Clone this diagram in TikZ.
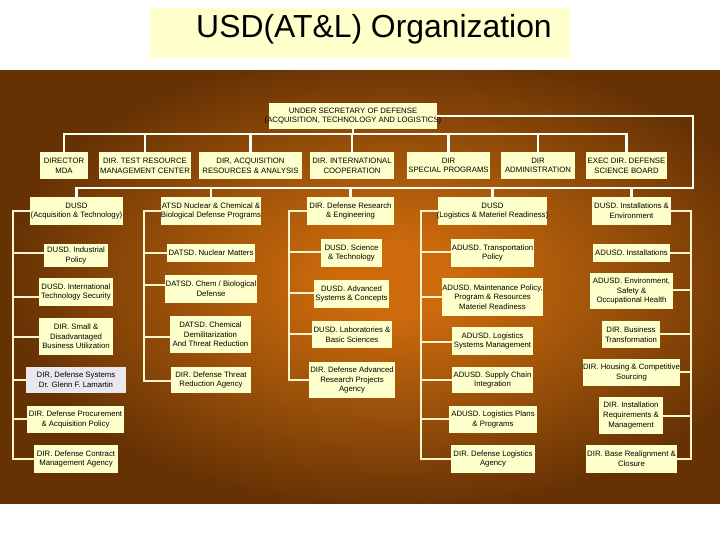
\documentclass[tikz,border=0pt]{standalone}
\usepackage{fontspec}
\setmainfont{Liberation Sans}
\definecolor{boxfill}{HTML}{FFFFCC}
\definecolor{grayfill}{HTML}{E8E8EE}
\definecolor{bgc}{HTML}{CC6A0C}
\definecolor{bgm}{HTML}{A0540A}
\definecolor{bge}{HTML}{663204}
\definecolor{buscol}{HTML}{FFFFF2}
\definecolor{thincol}{HTML}{FFF4CC}
\pgfdeclareradialshading{bgshade}{\pgfpoint{0bp}{0bp}}{color(0bp)=(bgc); color(2bp)=(bgc); color(6.5bp)=(bgm); color(12.5bp)=(bge); color(50bp)=(bge)}
\tikzset{
  ob/.style={fill=boxfill, draw=none, inner sep=0pt, outer sep=0pt},
  gb/.style={ob, fill=grayfill},
  txt/.style={font=\fontsize{7.8}{9.7}\selectfont, align=center, inner sep=0pt, text=black},
  bus/.style={draw=buscol, line width=2.6bp, line cap=rect},
  thinl/.style={draw=thincol, line width=1.3bp},
}
\newcommand\bx[7][ob]{%
  \node[#1, minimum width={(#5-#3)*1bp}, minimum height={(#6-#4)*1bp},
        label={[txt]center:{#7}}] (#2) at ({(#3+#5)/2},{(#4+#6)/2}) {};}
\newcommand\brl[3]{\draw[thinl] (#1 |- 0,#3) -- (#2.west |- 0,#3);}
\newcommand\brr[3]{\draw[thinl] (#1 |- 0,#3) -- (#2.east |- 0,#3);}
\begin{document}
\begin{tikzpicture}[x=1bp,y=-1bp]
\useasboundingbox (0,0) rectangle (720,540);
\fill[white] (0,0) rectangle (720,540);
\fill[bge] (0,70.5) rectangle (720,503);
\begin{scope}
  \clip (0,70.5) rectangle (720,503);
  \shade[shading=bgshade] (-385,-180) rectangle (1175,740);
\end{scope}
% title
\node[fill=boxfill, minimum width=420bp, minimum height=50bp, inner sep=0pt] (tbox) at (360,33) {};
\node[font=\fontsize{32}{36}\selectfont, anchor=base, inner sep=0pt] (title) at (374,37.5) {USD(AT\&L) Organization};
% top
\bx{top}{269}{103}{437}{129}{UNDER SECRETARY OF DEFENSE\\(ACQUISITION,  TECHNOLOGY AND  LOGISTICS)}
% row 2
\bx{mda}{40}{152}{88}{179}{DIRECTOR\\MDA}
\bx{tr}{99}{152}{191}{179}{DIR. TEST RESOURCE\\MANAGEMENT CENTER}
\bx{acq}{199}{152}{302}{179}{DIR, ACQUISITION\\RESOURCES \& ANALYSIS}
\bx{intl}{310}{152}{394}{179}{DIR. INTERNATIONAL\\COOPERATION}
\bx{sp}{407}{152}{490}{179}{DIR\\SPECIAL PROGRAMS}
\bx{adm}{501}{152}{575}{179}{DIR\\ADMINISTRATION}
\bx{exec}{586}{152}{667}{179}{EXEC DIR. DEFENSE\\SCIENCE BOARD}
% row 3
\bx{dat}{30}{197}{123}{225}{DUSD\\(Acquisition \& Technology)}
\bx{atsd}{161}{197}{261}{225}{ATSD Nuclear \& Chemical \&\\Biological Defense Programs}
\bx{dre}{307}{197}{394}{225}{DIR. Defense Research\\\& Engineering}
\bx{dlm}{438}{197}{547}{225}{DUSD\\(Logistics \& Materiel Readiness)}
\bx{die}{592}{197}{671}{225}{DUSD. Installations \&\\Environment}
% column 1
\bx{c1b}{44}{244}{108}{267}{DUSD. Industrial\\Policy}
\bx{c1c}{39}{278}{113}{306}{DUSD. International\\Technology Security}
\bx{c1d}{39}{318}{113}{355}{DIR. Small \&\\Disadvantaged\\Business Utilization}
\bx[gb]{c1e}{26}{367}{126}{393}{DIR, Defense Systems\\Dr. Glenn F. Lamartin}
\bx{c1f}{27}{406}{124}{433}{DIR. Defense Procurement\\\& Acquisition Policy}
\bx{c1g}{34}{445}{118}{473}{DIR. Defense Contract\\Management Agency}
% column 2
\bx{c2b}{167}{244}{255}{262}{DATSD. Nuclear Matters}
\bx{c2c}{165}{275}{257}{303}{DATSD. Chem / Biological\\Defense}
\bx{c2d}{170}{316}{251}{353}{DATSD. Chemical\\Demilitarization\\And Threat Reduction}
\bx{c2e}{171}{367}{251}{393}{DIR. Defense Threat\\Reduction Agency}
% column 3
\bx{c3b}{321}{239}{382}{267}{DUSD. Science\\\& Technology}
\bx{c3c}{314}{280}{389}{308}{DUSD. Advanced\\Systems \& Concepts}
\bx{c3d}{312}{321}{392}{348}{DUSD. Laboratories \&\\Basic Sciences}
\bx{c3e}{309}{362}{395}{398}{DIR. Defense Advanced\\Research Projects\\Agency}
% column 4
\bx{c4b}{451}{239}{534}{267}{ADUSD. Transportation\\Policy}
\bx{c4c}{442}{278}{543}{316}{ADUSD. Maintenance Policy,\\Program \& Resources\\Materiel Readiness}
\bx{c4d}{452}{327}{533}{355}{ADUSD. Logistics\\Systems Management}
\bx{c4e}{452}{367}{533}{393}{ADUSD. Supply Chain\\Integration}
\bx{c4f}{449}{406}{537}{433}{ADUSD. Logistics Plans\\\& Programs}
\bx{c4g}{451}{445}{535}{473}{DIR. Defense Logistics\\Agency}
% column 5
\bx{c5b}{593}{244}{670}{262}{ADUSD. Installations}
\bx{c5c}{590}{273}{673}{309}{ADUSD. Environment,\\Safety \&\\Occupational Health}
\bx{c5d}{602}{321}{660}{348}{DIR. Business\\Transformation}
\bx{c5e}{583}{359}{680}{386}{DIR. Housing \& Competitive\\Sourcing}
\bx{c5f}{599}{397}{663}{434}{DIR. Installation\\Requirements \&\\Management}
\bx{c5g}{586}{445}{677}{473}{DIR. Base Realignment \&\\Closure}
% buses
\coordinate (b1) at (0,134);
\coordinate (rc) at (693,188);
\draw[bus] (top.south) -- (top.south |- b1);
\draw[bus] (mda.north) |- (exec.north |- b1) -- (exec.north);
\foreach \n in {tr,acq,intl,sp,adm} \draw[bus] (\n.north) -- (\n.north |- b1);
\draw[bus] (top.east) -| (rc) -| (dat.north);
\foreach \n in {atsd,dre,dlm,die} \draw[bus] (\n.north) -- (\n.north |- rc);
% spines
\coordinate (s1) at (13,211);
\coordinate (s2) at (144,211);
\coordinate (s3) at (289,211);
\coordinate (s4) at (421,211);
\coordinate (s5) at (691,211);
\draw[thinl] (dat.west) -- (s1) -- (s1 |- 0,459) -- (c1g.west |- 0,459);
\brl{s1}{c1b}{253}\brl{s1}{c1c}{297}\brl{s1}{c1d}{337}\brl{s1}{c1e}{380}\brl{s1}{c1f}{419}
\draw[thinl] (atsd.west) -- (s2) -- (s2 |- 0,381) -- (c2e.west |- 0,381);
\brl{s2}{c2b}{253}\brl{s2}{c2c}{285}\brl{s2}{c2d}{337}
\draw[thinl] (dre.west) -- (s3) -- (s3 |- 0,380) -- (c3e.west |- 0,380);
\brl{s3}{c3b}{252}\brl{s3}{c3c}{293}\brl{s3}{c3d}{334}
\draw[thinl] (dlm.west) -- (s4) -- (s4 |- 0,459) -- (c4g.west |- 0,459);
\brl{s4}{c4b}{252}\brl{s4}{c4c}{297}\brl{s4}{c4d}{342}\brl{s4}{c4e}{380}\brl{s4}{c4f}{419}
\draw[thinl] (die.east) -- (s5) -- (s5 |- 0,459) -- (c5g.east |- 0,459);
\brr{s5}{c5b}{253}\brr{s5}{c5c}{290}\brr{s5}{c5d}{334}\brr{s5}{c5e}{372}\brr{s5}{c5f}{416}
\end{tikzpicture}
\end{document}
